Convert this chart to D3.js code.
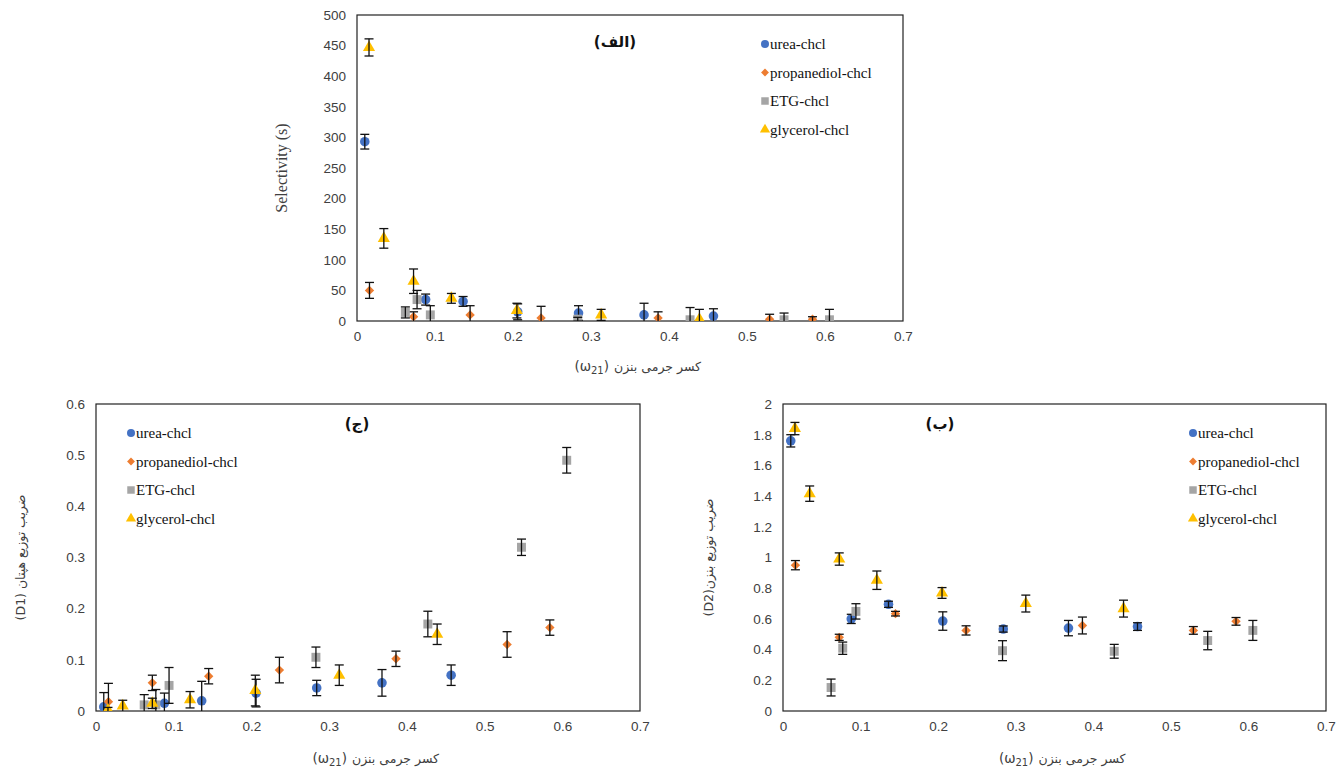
<!DOCTYPE html>
<html><head><meta charset="utf-8">
<script src="https://cdn.jsdelivr.net/npm/d3@7"></script>
<style>body{margin:0;background:#fff;} svg{display:block;}</style>
</head><body>
<svg id="c" width="1344" height="771"></svg>
<script>
// ---- data ----
const seriesNames = ["urea-chcl", "propanediol-chcl", "ETG-chcl", "glycerol-chcl"];
const seriesColors = ["#4472C4", "#ED7D31", "#A5A5A5", "#FFC000"];
const ureaX = [0.010, 0.088, 0.136, 0.206, 0.284, 0.368, 0.457];
const propX = [0.016, 0.0725, 0.145, 0.236, 0.386, 0.529, 0.584];
const etgX  = [0.062, 0.077, 0.094, 0.283, 0.427, 0.5475, 0.6057];
const glyX  = [0.0154, 0.0344, 0.0725, 0.121, 0.205, 0.313, 0.439];

// Selectivity (s)
const ureaS = [293, 35, 32, 15, 13, 10, 8];      const ureaSErr = [12, 9, 8, 13, 12, 19, 12];
const propS = [50, 7, 10, 5, 5, 3, 3];            const propSErr = [13, 8, 15, 19, 10, 8, 4];
const etgS  = [14, 35, 10, 3, 2, 2, 2];           const etgSErr  = [9, 15, 15, 3, 20, 11, 17];
const glyS  = [447, 135, 65, 37, 17, 10, 3];      const glySErr  = [14, 16, 20, 8, 12, 9, 16];

// D1 (heptane)
const ureaD1 = [0.008, 0.015, 0.02, 0.035, 0.045, 0.055, 0.07];  const ureaD1Err = [0.028, 0.02, 0.038, 0.027, 0.015, 0.026, 0.02];
const propD1 = [0.018, 0.055, 0.068, 0.08, 0.102, 0.13, 0.163];  const propD1Err = [0.036, 0.015, 0.015, 0.025, 0.015, 0.025, 0.015];
const etgD1  = [0.012, 0.012, 0.05, 0.105, 0.17, 0.32, 0.49];    const etgD1Err  = [0.02, 0.03, 0.035, 0.02, 0.025, 0.016, 0.025];
const glyD1  = [0.002, 0.01, 0.015, 0.022, 0.04, 0.07, 0.15];    const glyD1Err  = [0.005, 0.011, 0.01, 0.016, 0.03, 0.02, 0.02];

// D2 (benzene)
const ureaD2 = [1.76, 0.60, 0.695, 0.586, 0.534, 0.54, 0.55];    const ureaD2Err = [0.04, 0.03, 0.02, 0.06, 0.02, 0.05, 0.025];
const propD2 = [0.95, 0.48, 0.634, 0.525, 0.557, 0.525, 0.584];  const propD2Err = [0.03, 0.02, 0.015, 0.03, 0.055, 0.025, 0.025];
const etgD2  = [0.153, 0.409, 0.649, 0.393, 0.389, 0.459, 0.525];const etgD2Err  = [0.055, 0.04, 0.05, 0.065, 0.045, 0.06, 0.065];
const glyD2  = [1.84, 1.416, 0.99, 0.852, 0.769, 0.70, 0.667];   const glyD2Err  = [0.04, 0.05, 0.04, 0.06, 0.035, 0.055, 0.055];

const xTicks = [0, 0.1, 0.2, 0.3, 0.4, 0.5, 0.6, 0.7];
const sTicks = [0, 50, 100, 150, 200, 250, 300, 350, 400, 450, 500];
const d1Ticks = [0, 0.1, 0.2, 0.3, 0.4, 0.5, 0.6];
const d2Ticks = [0, 0.2, 0.4, 0.6, 0.8, 1, 1.2, 1.4, 1.6, 1.8, 2];

const xTitlePersian = "کسر جرمی بنزن";
const xTitleSymbol = "ω";
const xTitleSub = "21";

const xsAll = [ureaX, propX, etgX, glyX];
const panels = [
  { box: [357, 15, 903, 321], ymax: 500, yTicks: sTicks, ys: [ureaS, propS, etgS, glyS], errs: [ureaSErr, propSErr, etgSErr, glySErr],
    yTitle: "Selectivity (s)", yTitleFont: "'Liberation Serif', serif", yTitleX: 281, yTitleDir: "ltr",
    label: "(الف)", labelX: 615, labelY: 47, legendX: 765, legendY: 44, xTitleY: 371 },
  { box: [96, 404, 640, 711], ymax: 0.6, yTicks: d1Ticks, ys: [ureaD1, propD1, etgD1, glyD1], errs: [ureaD1Err, propD1Err, etgD1Err, glyD1Err],
    yTitle: "ضریب توزیع هپتان (D1)", yTitleFont: "'DejaVu Sans', sans-serif", yTitleX: 21, yTitleDir: "rtl",
    label: "(ج)", labelX: 357, labelY: 429, legendX: 131, legendY: 433, xTitleY: 763 },
  { box: [783, 404, 1326, 711], ymax: 2, yTicks: d2Ticks, ys: [ureaD2, propD2, etgD2, glyD2], errs: [ureaD2Err, propD2Err, etgD2Err, glyD2Err],
    yTitle: "ضریب توزیع بنزن(D2)", yTitleFont: "'DejaVu Sans', sans-serif", yTitleX: 709, yTitleDir: "rtl",
    label: "(ب)", labelX: 940, labelY: 429, legendX: 1193, legendY: 433, xTitleY: 763 }
];

const symTypes = [d3.symbolCircle, d3.symbolSquare, d3.symbolSquare, d3.symbolTriangle];
const symSizes = [72, 44, 80, 64];
const symRot = [0, 45, 0, 0];
const svg = d3.select("#c");
const tickFont = "'Liberation Sans', Arial, sans-serif";

panels.forEach(p => {
  const [x0, y0, x1, y1] = p.box;
  const x = d3.scaleLinear().domain([0, 0.7]).range([x0, x1]);
  const y = d3.scaleLinear().domain([0, p.ymax]).range([y1, y0]);
  const g = svg.append("g");

  const xa = g.append("g").attr("transform", `translate(0,${y1})`)
    .call(d3.axisBottom(x).tickValues(xTicks).tickSize(0).tickPadding(10).tickFormat(d => d3.format("")(d)));
  xa.select(".domain").remove();
  xa.selectAll("text").attr("font-family", tickFont).attr("font-size", 13.5).attr("fill", "#404040");
  const ya = g.append("g").attr("transform", `translate(${x0},0)`)
    .call(d3.axisLeft(y).tickValues(p.yTicks).tickSize(0).tickPadding(11).tickFormat(d => d3.format("")(d)));
  ya.select(".domain").remove();
  ya.selectAll("text").attr("font-family", tickFont).attr("font-size", 13.5).attr("fill", "#404040");

  g.append("rect").attr("x", x0).attr("y", y0).attr("width", x1 - x0).attr("height", y1 - y0)
    .attr("fill", "none").attr("stroke", "#222").attr("stroke-width", 1.2);

  const clipId = "clip" + x0;
  svg.append("clipPath").attr("id", clipId).append("rect")
    .attr("x", x0).attr("y", y0).attr("width", x1 - x0).attr("height", y1 - y0);
  const pg = g.append("g").attr("clip-path", `url(#${clipId})`);

  seriesNames.forEach((name, si) => {
    const xs = xsAll[si], ys = p.ys[si], es = p.errs[si];
    const pts = xs.map((xv, i) => ({ x: xv, y: ys[i], e: es[i] }));
    pg.selectAll(null).data(pts).enter().append("path")
      .attr("d", d3.symbol().type(symTypes[si]).size(symSizes[si])())
      .attr("transform", d => `translate(${x(d.x)},${y(d.y)}) rotate(${symRot[si]})`)
      .attr("fill", seriesColors[si]);
    const eb = pg.selectAll(null).data(pts).enter().append("g").attr("stroke", "#111").attr("stroke-width", 1.3);
    eb.append("line").attr("x1", d => x(d.x)).attr("x2", d => x(d.x))
      .attr("y1", d => y(d.y + d.e)).attr("y2", d => y(Math.max(d.y - d.e, 0)));
    eb.append("line").attr("x1", d => x(d.x) - 4.5).attr("x2", d => x(d.x) + 4.5)
      .attr("y1", d => y(d.y + d.e)).attr("y2", d => y(d.y + d.e));
    eb.filter(d => d.y - d.e >= 0).append("line").attr("x1", d => x(d.x) - 4.5).attr("x2", d => x(d.x) + 4.5)
      .attr("y1", d => y(d.y - d.e)).attr("y2", d => y(d.y - d.e));
  });

  seriesNames.forEach((name, si) => {
    const ly = p.legendY + si * 28.5;
    g.append("path").attr("d", d3.symbol().type(symTypes[si]).size(symSizes[si] * 0.7)())
      .attr("transform", `translate(${p.legendX},${ly}) rotate(${symRot[si]})`).attr("fill", seriesColors[si]);
    g.append("text").attr("x", p.legendX + 5).attr("y", ly + 5).text(name)
      .attr("font-family", "'Liberation Serif', serif").attr("font-size", 15).attr("fill", "#111");
  });

  g.append("text").attr("x", p.labelX).attr("y", p.labelY).attr("text-anchor", "middle")
    .attr("direction", "rtl").attr("font-family", "'DejaVu Sans', sans-serif").attr("font-weight", "bold")
    .attr("font-size", 15).attr("fill", "#111").text(p.label);

  // x title: "(ω21)" on the left, Persian text on the right
  const cx = (x0 + x1) / 2;
  const xt = g.append("g").attr("fill", "#404040");
  xt.append("text").attr("x", cx - 16).attr("y", p.xTitleY).attr("text-anchor", "start")
    .attr("font-family", "'DejaVu Sans', sans-serif").attr("font-size", 12.5)
    .text(xTitlePersian);
  const sym = xt.append("text").attr("x", cx - 21).attr("y", p.xTitleY).attr("text-anchor", "end")
    .attr("font-family", "'DejaVu Sans', sans-serif").attr("font-size", 13.5);
  sym.append("tspan").text("(" + xTitleSymbol);
  sym.append("tspan").attr("font-size", 10).attr("dy", 3).text(xTitleSub);
  sym.append("tspan").attr("dy", -3).text(")");

  g.append("text").attr("transform", `translate(${p.yTitleX},${(y0 + y1) / 2}) rotate(-90)`)
    .attr("text-anchor", "middle").attr("dy", "0.35em").attr("direction", p.yTitleDir)
    .attr("font-family", p.yTitleFont).attr("font-size", p.yTitleDir === "ltr" ? 16 : 12.5)
    .attr("fill", "#404040").text(p.yTitle);
});
</script>
</body></html>
